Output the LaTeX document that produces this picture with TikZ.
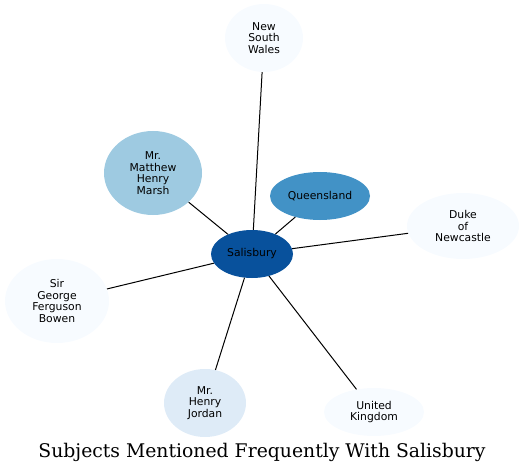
\documentclass[tikz,border=0pt]{standalone}
\usepackage{fontspec}
\setmainfont{DejaVu Sans}
\newfontfamily\titlefont{DejaVu Serif}
\usetikzlibrary{shapes.geometric}
\definecolor{c1}{HTML}{F7FBFF}
\definecolor{c2}{HTML}{DEEBF7}
\definecolor{c3}{HTML}{9ECAE1}
\definecolor{c4}{HTML}{4292C6}
\definecolor{c5}{HTML}{08519C}
\tikzset{
  ent/.style={ellipse, draw=none, inner sep=0pt, align=center,
    font=\fontsize{10.8}{11.7}\selectfont},
  link/.style={draw=black, line width=1pt}
}
\begin{document}
\begin{tikzpicture}[x=1pt,y=-1pt]
\useasboundingbox (0,0) rectangle (524,473);
\node[ent, fill=c1, minimum width=78pt, minimum height=68pt] (nsw) at (264,38) {New\\South\\Wales};
\node[ent, fill=c3, minimum width=98pt, minimum height=84pt] (marsh) at (153,173) {Mr.\\Matthew\\Henry\\Marsh};
\node[ent, fill=c4, minimum width=100pt, minimum height=48pt] (qld) at (320,196) {Queensland};
\node[ent, fill=c5, minimum width=82pt, minimum height=48pt] (sal) at (252,254) {Salisbury};
\node[ent, fill=c1, minimum width=112pt, minimum height=66pt] (duke) at (463,226) {Duke\\of\\Newcastle};
\node[ent, fill=c1, minimum width=104pt, minimum height=84pt] (bowen) at (57,301) {Sir\\George\\Ferguson\\Bowen};
\node[ent, fill=c2, minimum width=82pt, minimum height=68pt] (jordan) at (205,403) {Mr.\\Henry\\Jordan};
\node[ent, fill=c1, minimum width=100pt, minimum height=48pt] (uk) at (374,412) {United\\Kingdom};
\foreach \n in {nsw,marsh,qld,duke,bowen,jordan,uk}{\draw[link] (sal) -- (\n);}
\node[font=\titlefont\fontsize{18.8}{20}\selectfont, anchor=base] (title) at (262,457) {Subjects Mentioned Frequently With Salisbury};
\end{tikzpicture}
\end{document}
